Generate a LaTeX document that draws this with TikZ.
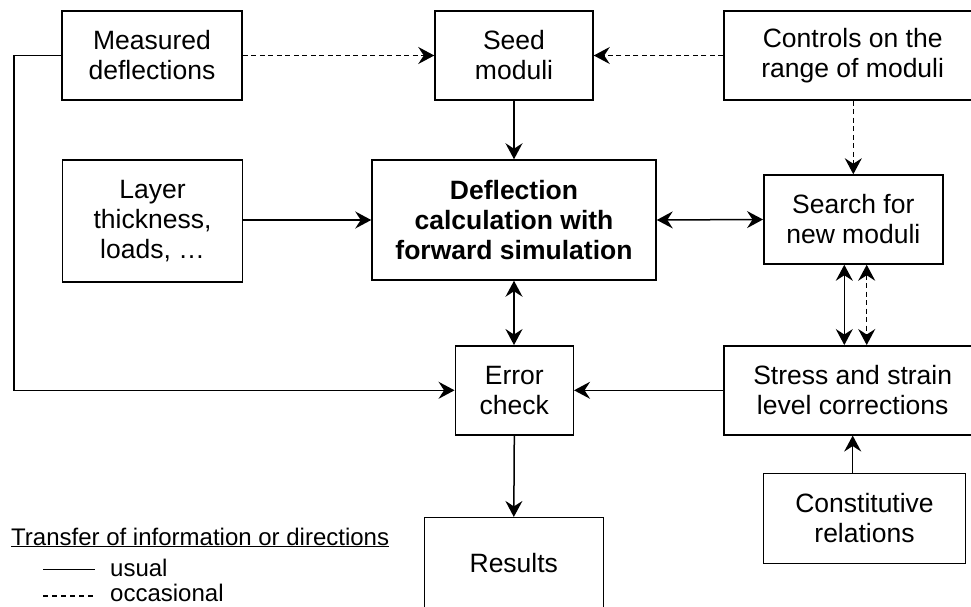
\documentclass[tikz,border=0pt]{standalone}
\usepackage{fontspec}
\setmainfont{Liberation Sans}
\usetikzlibrary{arrows.meta}
\begin{document}
\begin{tikzpicture}[x=1pt,y=1pt,
  box/.style={draw, line width=1.5pt, align=center, inner sep=2pt,
    font=\fontsize{26.5}{30}\selectfont},
  conn/.style={line width=1.5pt, -{Stealth[length=16pt,width=17pt,inset=5.5pt]}},
  dconn/.style={line width=1.5pt, {Stealth[length=16pt,width=17pt,inset=5.5pt]}-{Stealth[length=16pt,width=17pt,inset=5.5pt]}},
  dsh/.style={dash pattern=on 5pt off 3.5pt},
  legend/.style={font=\fontsize{24}{28}\selectfont, inner sep=0pt, anchor=base west}]
\useasboundingbox (0,0) rectangle (971,-607);
\node[box, minimum width=180, minimum height=89] (meas) at (152,-55.5) {Measured\\deflections};
\node[box, minimum width=158, minimum height=89] (seed) at (514,-55.5) {Seed\\moduli};
\node[box, minimum width=257, minimum height=89] (ctrl) at (852.7,-55.5) {Controls on the\\range of moduli};
\node[box, minimum width=180, minimum height=122] (layer) at (152.5,-221) {Layer\\thickness,\\loads, …};
\node[box, minimum width=284, minimum height=120, font=\fontsize{26.5}{30}\selectfont\bfseries] (defl) at (514,-220) {Deflection\\calculation with\\forward simulation};
\node[box, minimum width=179, minimum height=89] (search) at (853.3,-219.5) {Search for\\new moduli};
\node[box, minimum width=118, minimum height=89] (err) at (514.3,-390.3) {Error\\check};
\node[box, minimum width=257, minimum height=89] (stress) at (852.7,-390.3) {Stress and strain\\level corrections};
\node[box, minimum width=201.6, minimum height=90] (const) at (864.5,-518.3) {Constitutive\\relations};
\node[box, minimum width=179, minimum height=91] (res) at (513.8,-563.2) {Results};
% connectors
\draw[conn, dsh] (meas.east) -- (seed.west);
\draw[conn, dsh] (ctrl.west) -- (seed.east);
\draw[conn] (seed.south) -- (defl.north);
\draw[conn, dsh] (ctrl.south -| search.north) -- (search.north);
\draw[conn] (layer.east |- defl.west) -- (defl.west);
\draw[dconn] (defl.east) -- (search.west);
\draw[dconn] (defl.south) -- (defl.south |- err.north);
\draw[dconn] ([xshift=-9pt]search.south) -- ([xshift=-9pt]search.south |- stress.north);
\draw[dconn, dsh] ([xshift=13.4pt]search.south) -- ([xshift=13.4pt]search.south |- stress.north);
\draw[conn] (stress.west) -- (err.east);
\draw[conn] (const.north -| stress.south) -- (stress.south);
\draw[conn] (err.south) -- (res.north);
\coordinate (lb) at (14,-390.3);
\draw[conn] (meas.west) -| (lb) -- (err.west);
% legend
\node[legend] (lt) at (11,-545) {\underline{Transfer of information or directions}};
\node[legend] (lu) at (110,-576) {usual};
\node[legend] (lo) at (110,-601) {occasional};
\coordinate (su1) at (43,-569.5);
\coordinate (su2) at (95,-569.5);
\coordinate (so1) at (43,-596);
\coordinate (so2) at (95,-596);
\draw[line width=1.3pt] (su1) -- (su2);
\draw[line width=1.2pt, dash pattern=on 5pt off 4pt] (so1) -- (so2);
\end{tikzpicture}
\end{document}
